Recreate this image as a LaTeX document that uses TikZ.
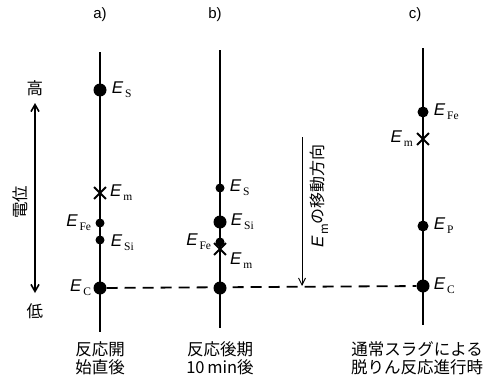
\documentclass[tikz,border=0pt]{standalone}
\usepackage{fontspec}
\setmainfont{Liberation Serif}
\newfontfamily\jpfont{Noto Sans CJK JP}
\newfontfamily\hvfont{Liberation Sans}
\usetikzlibrary{arrows.meta,positioning,shapes.misc}
\newcommand{\Elev}[1]{{\hvfont\itshape E}\kern2pt\raisebox{-0.5ex}{\fontsize{11.5}{11.5}\selectfont #1}}
\tikzset{
  potline/.style={line width=2.2pt},
  bigdot/.style={circle,fill=black,inner sep=0pt,minimum size=13pt},
  middot/.style={circle,fill=black,inner sep=0pt,minimum size=11pt},
  smalldot/.style={circle,fill=black,inner sep=0pt,minimum size=9pt},
  crossmark/.style={cross out,draw=black,line width=1.8pt,inner sep=0pt,minimum size=10pt},
  lvl/.style={font=\fontsize{17}{17}\selectfont,inner sep=1pt},
  jp/.style={font=\jpfont\fontsize{16.5}{18}\selectfont,align=center},
  head/.style={font=\hvfont\fontsize{15}{15}\selectfont}
}
\begin{document}
\begin{tikzpicture}[x=1pt,y=-1pt]
  \useasboundingbox (0,0) rectangle (501,383);
  % potential axis
  \coordinate (hi) at (35,103); \coordinate (lo) at (35,293);
  \draw[line width=1.6pt,{Straight Barb[length=7pt,width=8pt]}-{Straight Barb[length=7pt,width=8pt]}] (hi) -- (lo);
  \node[jp] (takai) at (35,88) {高};
  \node[jp] (hikui) at (35,311) {低};
  \node[jp,rotate=90] (deni) at (20,202) {電位};

  % a) start of reaction
  \coordinate (atop) at (100,52); \coordinate (abot) at (100,332);
  \draw[potline] (atop) -- (abot);
  \node[head] (alab) at (100,15) {a)};
  \node[bigdot]   (aS)  at (100,90) {};
  \node[crossmark] (am) at (100,193) {};
  \node[smalldot] (aFe) at (100,223) {};
  \node[smalldot] (aSi) at (100,240) {};
  \node[bigdot]   (aC)  at (100,288) {};
  \node[lvl,right=4pt of aS] {\Elev{S}};
  \node[lvl,right=3pt of am] {\Elev{m}};
  \node[lvl,left=3pt of aFe] {\Elev{Fe}};
  \node[lvl,right=5pt of aSi,yshift=-3pt] {\Elev{Si}};
  \node[lvl,left=1pt of aC] {\Elev{C}};
  \node[jp] (atxt) at (100,358) {反応開\\始直後};

  % b) 10 min later
  \coordinate (btop) at (220,50); \coordinate (bbot) at (220,328);
  \draw[potline] (btop) -- (bbot);
  \node[head] (blab) at (215,15) {b)};
  \node[smalldot] (bS)  at (220,188) {};
  \node[bigdot]   (bSi) at (220,222) {};
  \node[smalldot] (bFe) at (220,242) {};
  \node[crossmark] (bm) at (220,249) {};
  \node[bigdot]   (bC)  at (220,288) {};
  \node[lvl,right=4pt of bS] {\Elev{S}};
  \node[lvl,right=3pt of bSi] {\Elev{Si}};
  \node[lvl,left=3pt of bFe] {\Elev{Fe}};
  \node[lvl,anchor=north west] at ([xshift=3pt,yshift=-3pt]bm.east) {\Elev{m}};
  \node[jp] (btxt) at (220,358) {反応後期\\10\,min後};

  % c) normal dephosphorization
  \coordinate (ctop) at (423,48); \coordinate (cbot) at (423,325);
  \draw[potline] (ctop) -- (cbot);
  \node[head] (clab) at (415,15) {c)};
  \node[middot]   (cFe) at (423,112) {};
  \node[crossmark] (cm) at (423,139) {};
  \node[middot]   (cP)  at (423,226) {};
  \node[bigdot]   (cC)  at (423,286) {};
  \node[lvl,right=4pt of cFe] {\Elev{Fe}};
  \node[lvl,left=3pt of cm] {\Elev{m}};
  \node[lvl,right=4pt of cP] {\Elev{P}};
  \node[lvl,right=3pt of cC] {\Elev{C}};
  \node[jp] (ctxt) at (417,358) {通常スラグによる\\脱りん反応進行時};

  % common level and shift of E_m
  \draw[line width=1.8pt,dash pattern=on 11pt off 7pt] (aC) -- (cC);
  \coordinate (mvtop) at (302,137);
  \draw[line width=0.9pt,-{Straight Barb[length=7pt,width=7pt]}] (mvtop) -- (mvtop |- cC);
  \node[rotate=90,font=\jpfont\fontsize{16}{16}\selectfont] (mvtxt) at (319,196) {{\fontsize{17}{17}\selectfont\Elev{m}}の移動方向};
\end{tikzpicture}
\end{document}
